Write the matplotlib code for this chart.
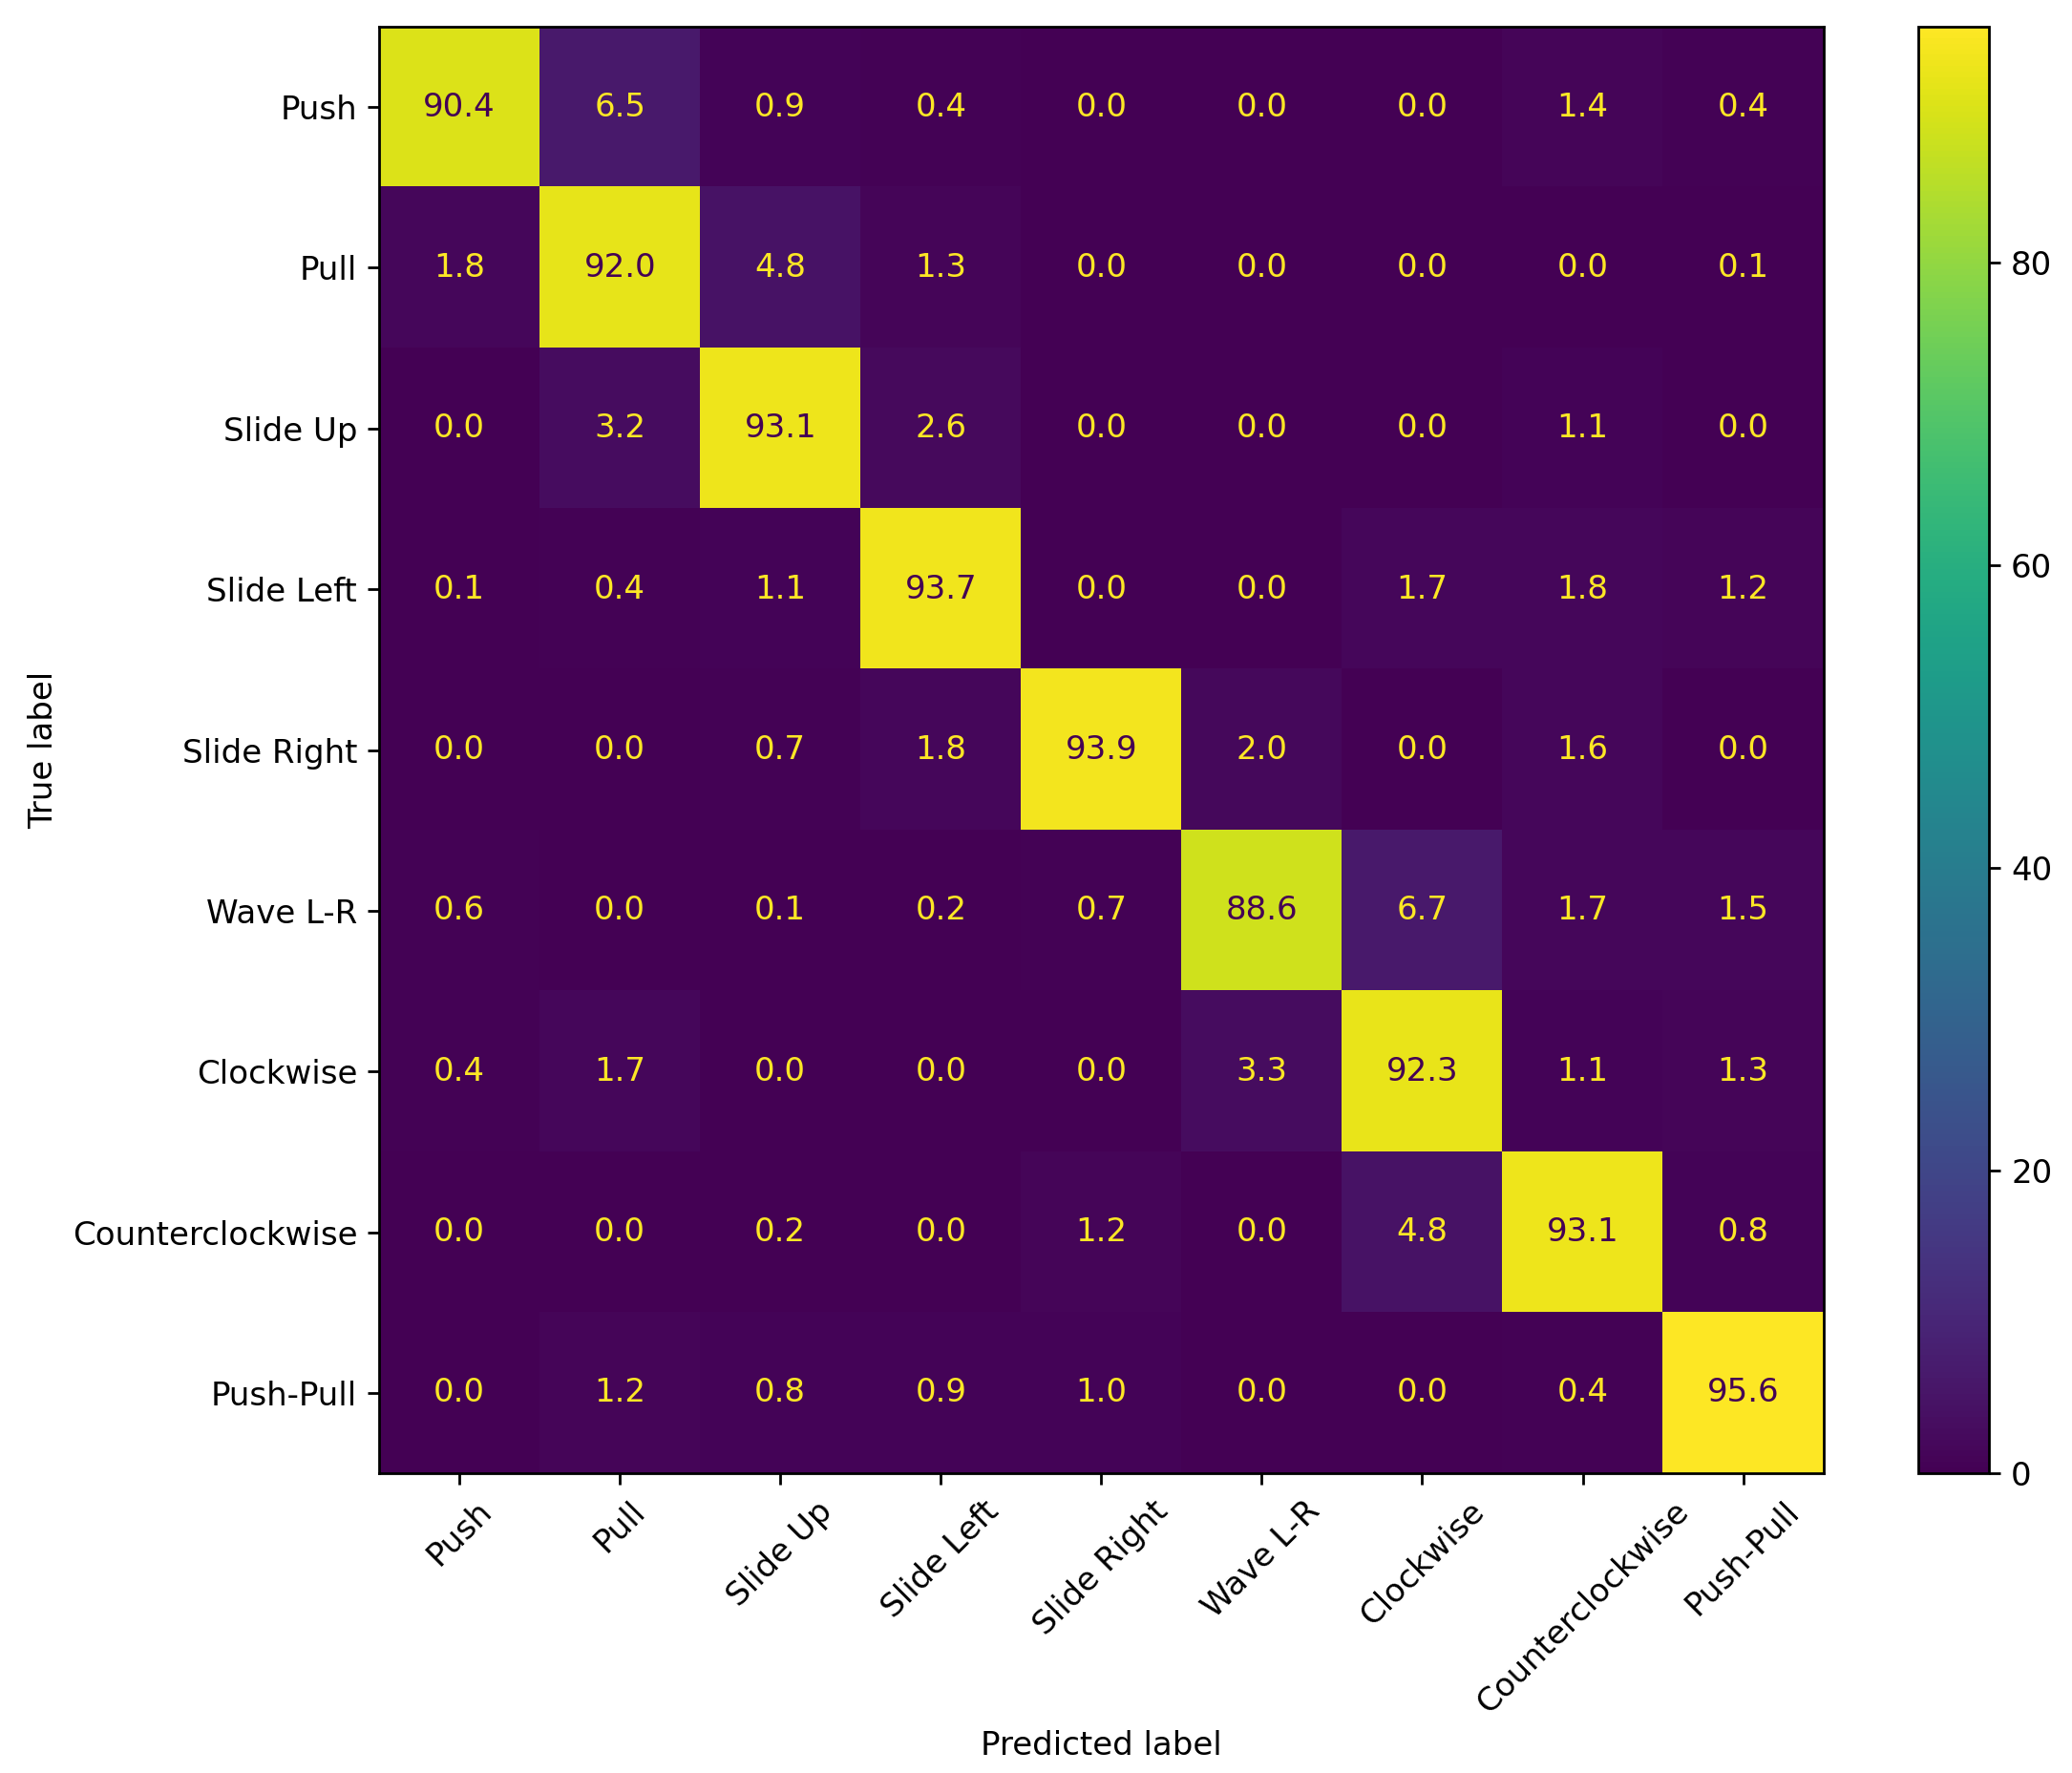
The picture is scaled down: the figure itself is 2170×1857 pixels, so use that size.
import numpy as np
import matplotlib
matplotlib.use('Agg')
import matplotlib.pyplot as plt

labels = ['Push', 'Pull', 'Slide Up', 'Slide Left', 'Slide Right',
          'Wave L-R', 'Clockwise', 'Counterclockwise', 'Push-Pull']

row_push = [90.4, 6.5, 0.9, 0.4, 0.0, 0.0, 0.0, 1.4, 0.4]
row_pull = [1.8, 92.0, 4.8, 1.3, 0.0, 0.0, 0.0, 0.0, 0.1]
row_slide_up = [0.0, 3.2, 93.1, 2.6, 0.0, 0.0, 0.0, 1.1, 0.0]
row_slide_left = [0.1, 0.4, 1.1, 93.7, 0.0, 0.0, 1.7, 1.8, 1.2]
row_slide_right = [0.0, 0.0, 0.7, 1.8, 93.9, 2.0, 0.0, 1.6, 0.0]
row_wave = [0.6, 0.0, 0.1, 0.2, 0.7, 88.6, 6.7, 1.7, 1.5]
row_cw = [0.4, 1.7, 0.0, 0.0, 0.0, 3.3, 92.3, 1.1, 1.3]
row_ccw = [0.0, 0.0, 0.2, 0.0, 1.2, 0.0, 4.8, 93.1, 0.8]
row_pushpull = [0.0, 1.2, 0.8, 0.9, 1.0, 0.0, 0.0, 0.4, 95.6]

cm = np.array([row_push, row_pull, row_slide_up, row_slide_left, row_slide_right,
               row_wave, row_cw, row_ccw, row_pushpull])

plt.rcParams['font.family'] = 'DejaVu Sans'
plt.rcParams['font.size'] = 24.5
plt.rcParams['axes.linewidth'] = 2.0
plt.rcParams['xtick.major.width'] = 2.0
plt.rcParams['ytick.major.width'] = 2.0
plt.rcParams['xtick.major.size'] = 8.5
plt.rcParams['ytick.major.size'] = 8.5
plt.rcParams['xtick.major.pad'] = 8
plt.rcParams['ytick.major.pad'] = 8

fig = plt.figure(figsize=(21.7, 18.57), dpi=100)
ax = fig.add_axes([0.183, 0.169, 0.697, 0.816])
cax = fig.add_axes([0.926, 0.169, 0.034, 0.816])

cmap = plt.get_cmap('viridis')
im = ax.imshow(cm, cmap=cmap, interpolation='nearest', aspect='auto',
               vmin=0, vmax=cm.max())

# dark text on the bright diagonal, yellow text elsewhere
thresh = (cm.max() + cm.min()) / 2.0
for i in range(cm.shape[0]):
    for j in range(cm.shape[1]):
        color = cmap(0.0) if cm[i, j] > thresh else cmap(1.0)
        ax.text(j, i, '{:.1f}'.format(cm[i, j]), ha='center', va='center', color=color)

ax.set_xticks(range(len(labels)))
ax.set_yticks(range(len(labels)))
ax.set_xticklabels(labels, rotation=45)
ax.set_yticklabels(labels)
ax.set_xlabel('Predicted label', labelpad=8)
ax.set_ylabel('True label', labelpad=10)

cb = fig.colorbar(im, cax=cax)
cb.set_ticks([0, 20, 40, 60, 80])
cb.outline.set_linewidth(2.0)

fig.savefig('out.png', dpi=100)
